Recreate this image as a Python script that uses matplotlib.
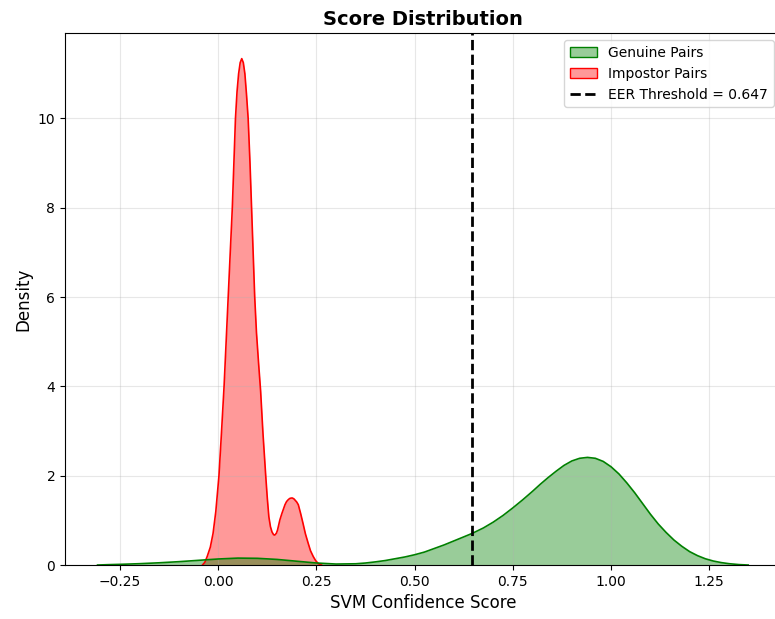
import matplotlib
matplotlib.use('Agg')
import matplotlib.pyplot as plt
from matplotlib.patches import Patch
from matplotlib.lines import Line2D

# density curves of SVM confidence scores (x = score, y = density)
genuine_x = [-0.307, -0.28, -0.25, -0.20, -0.15, -0.10, -0.05, 0.00, 0.05, 0.10,
             0.15, 0.20, 0.25, 0.30, 0.35, 0.375, 0.40, 0.425, 0.45, 0.475,
             0.50, 0.525, 0.55, 0.575, 0.60, 0.625, 0.647, 0.675, 0.70, 0.725,
             0.75, 0.775, 0.80, 0.82, 0.84, 0.86, 0.88, 0.90, 0.92, 0.94,
             0.96, 0.98, 1.00, 1.02, 1.04, 1.06, 1.08, 1.10, 1.12, 1.14,
             1.16, 1.18, 1.20, 1.22, 1.24, 1.26, 1.28, 1.30, 1.325, 1.349]
genuine_y = [0.0, 0.008, 0.015, 0.03, 0.05, 0.075, 0.105, 0.135, 0.155, 0.15,
             0.125, 0.085, 0.045, 0.022, 0.028, 0.045, 0.07, 0.10, 0.14, 0.18,
             0.23, 0.29, 0.37, 0.45, 0.54, 0.63, 0.71, 0.83, 0.96, 1.11,
             1.28, 1.46, 1.65, 1.81, 1.96, 2.10, 2.23, 2.33, 2.39, 2.41,
             2.39, 2.32, 2.20, 2.04, 1.84, 1.62, 1.38, 1.14, 0.92, 0.73,
             0.56, 0.42, 0.30, 0.21, 0.14, 0.09, 0.055, 0.03, 0.01, 0.0]

impostor_x = [-0.040, -0.034, -0.028, -0.020, -0.013, -0.006, 0.002, 0.008, 0.015, 0.020,
              0.0255, 0.031, 0.036, 0.040, 0.044, 0.048, 0.052, 0.056, 0.060, 0.064,
              0.068, 0.072, 0.0763, 0.081, 0.085, 0.089, 0.093, 0.0975, 0.103, 0.108,
              0.114, 0.121, 0.125, 0.129, 0.133, 0.137, 0.141, 0.144, 0.148, 0.151,
              0.157, 0.162, 0.166, 0.170, 0.174, 0.178, 0.182, 0.186, 0.189, 0.193,
              0.196, 0.200, 0.204, 0.210, 0.216, 0.222, 0.229, 0.235, 0.242, 0.248,
              0.254, 0.258, 0.263]
impostor_y = [0.0, 0.06, 0.19, 0.40, 0.71, 1.20, 2.00, 2.90, 4.00, 4.95,
              6.00, 7.05, 8.00, 9.00, 10.00, 10.60, 11.00, 11.25, 11.34, 11.25,
              11.00, 10.55, 10.00, 9.00, 8.00, 7.00, 6.00, 5.20, 4.50, 3.90,
              2.95, 2.00, 1.50, 1.08, 0.86, 0.74, 0.68, 0.67, 0.71, 0.78,
              1.01, 1.15, 1.25, 1.35, 1.42, 1.46, 1.49, 1.50, 1.50, 1.48,
              1.45, 1.41, 1.35, 1.15, 0.93, 0.70, 0.49, 0.32, 0.19, 0.10,
              0.04, 0.015, 0.0]

eer_threshold = 0.647

fig = plt.figure(figsize=(7.75, 6.19), dpi=100)
ax = fig.add_axes([0.0839, 0.0872, 0.9235, 0.859])

# impostor first so the genuine fill sits on top where they overlap
ax.fill_between(impostor_x, impostor_y, color='red', alpha=0.4, linewidth=0)
ax.plot(impostor_x, impostor_y, color='red', linewidth=1.2)
ax.fill_between(genuine_x, genuine_y, color='green', alpha=0.4, linewidth=0)
ax.plot(genuine_x, genuine_y, color='green', linewidth=1.2)

ax.axvline(eer_threshold, color='black', linestyle='--', linewidth=2)

ax.margins(x=0.05)
ax.set_ylim(0, max(impostor_y) * 1.05)
ax.grid(True, alpha=0.3)

ax.set_title('Score Distribution', fontsize=14, fontweight='bold')
ax.set_xlabel('SVM Confidence Score', fontsize=12)
ax.set_ylabel('Density', fontsize=12)

handles = [
    Patch(facecolor=(0, 0.5, 0, 0.4), edgecolor='green', label='Genuine Pairs'),
    Patch(facecolor=(1, 0, 0, 0.4), edgecolor='red', label='Impostor Pairs'),
    Line2D([0], [0], color='black', linestyle='--', linewidth=2,
           label=f'EER Threshold = {eer_threshold}'),
]
ax.legend(handles=handles, loc='upper right')

fig.savefig('out.png', dpi=100)
